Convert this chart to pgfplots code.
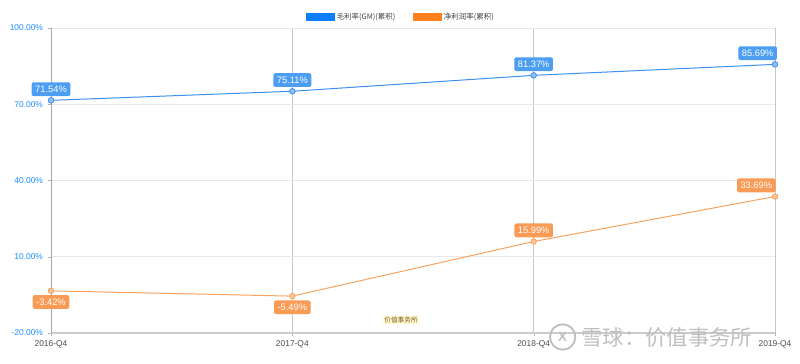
\documentclass[border=0pt]{standalone}
\usepackage{fontspec}
\setmainfont{Liberation Sans}
\newfontfamily\cjk{Noto Sans CJK SC}
\usepackage{pgfplots}
\pgfplotsset{compat=1.18}
\definecolor{gmline}{HTML}{3D8FF0}
\definecolor{gmleg}{HTML}{0B7FFB}
\definecolor{gmlab}{HTML}{4C9EF2}
\definecolor{gmmark}{HTML}{8CC0F7}
\definecolor{npline}{HTML}{F8A25E}
\definecolor{npleg}{HTML}{FF801F}
\definecolor{nplab}{HTML}{F99B55}
\definecolor{npmark}{HTML}{FBC49A}
\definecolor{ytl}{HTML}{1A8CFF}
\pgfplotsset{
  lab/.style 2 args={forget plot, draw=none, mark=none,
    nodes near coords={\pgfmathprintnumber[fixed,fixed zerofill,precision=2]{\pgfplotspointmeta}\%},
    every node near coord/.append style={anchor=#2,
      fill=#1, text=white, rounded corners=1.5pt, inner xsep=2.6pt, inner ysep=2.7pt,
      font=\fontsize{7}{8}\selectfont}},
}
\begin{document}
\begin{tikzpicture}
\useasboundingbox (0,0) rectangle (600pt,273pt);
\begin{axis}[
  at={(38.25pt,23.25pt)}, anchor=south west,
  scale only axis, width=543pt, height=228.75pt,
  xmin=0, xmax=3, ymin=-20, ymax=100,
  xtick={0,1,2,3},
  xticklabels={2016-Q4,2017-Q4,2018-Q4,2019-Q4},
  ytick={-20,10,40,70,100},
  yticklabel={\pgfmathprintnumber[fixed,fixed zerofill,precision=2]{\tick}\%},
  /pgf/number format/assume math mode=true,
  yticklabel style={text=ytl, font=\fontsize{6.3}{7}\selectfont},
  xticklabel style={text=black!70, font=\fontsize{6.3}{7}\selectfont},
  axis x line*=bottom, axis y line*=left,
  x axis line style={draw=black!20, line width=1.2pt},
  y axis line style={draw=black!35, line width=0.6pt},
  tick align=outside, major tick length=2.5pt,
  tick style={draw=black!30},
  xmajorgrids, ymajorgrids,
  x grid style={draw=black!22, line width=0.6pt},
  y grid style={draw=black!9, line width=0.6pt},
  clip=false,
  legend style={at={(0.5,1)}, anchor=south, xshift=-9pt, yshift=3pt,
    draw=none, fill=none, legend columns=2, inner sep=0pt,
    font=\cjk\fontsize{5.6}{7}\selectfont, text=black!75,
    /tikz/every even column/.append style={column sep=11pt}},
]
\addlegendimage{legend image code/.code={\fill[gmleg] (0pt,-2.6pt) rectangle (21pt,2.6pt);}}
\addlegendentry{毛利率(GM)(累积)}
\addlegendimage{legend image code/.code={\fill[npleg] (0pt,-2.6pt) rectangle (21pt,2.6pt);}}
\addlegendentry{净利润率(累积)}
% lines and markers
\addplot[forget plot, gmline, line width=0.75pt, mark=*, mark size=2.1pt,
  mark options={draw=gmline, fill=gmmark, line width=0.6pt}]
  coordinates {(0,71.54) (1,75.11) (2,81.37) (3,85.69)};
\addplot[forget plot, npline, line width=0.75pt, mark=*, mark size=2.1pt,
  mark options={draw=npline, fill=npmark, line width=0.6pt}]
  coordinates {(0,-3.42) (1,-5.49) (2,15.99) (3,33.69)};
% value labels
\addplot[lab={gmlab}{south}, every node near coord/.append style={yshift=3pt}]
  coordinates {(0,71.54) (1,75.11) (2,81.37)};
\addplot[lab={gmlab}{south}, every node near coord/.append style={yshift=3pt, xshift=-13pt}]
  coordinates {(3,85.69)};
\addplot[lab={nplab}{north}, every node near coord/.append style={yshift=-3pt}]
  coordinates {(0,-3.42) (1,-5.49)};
\addplot[lab={nplab}{south}, every node near coord/.append style={yshift=3pt}]
  coordinates {(2,15.99)};
\addplot[lab={nplab}{south}, every node near coord/.append style={yshift=3pt, xshift=-14pt}]
  coordinates {(3,33.69)};
\end{axis}
\node[text=black!25, font=\cjk\fontsize{16}{18}\selectfont] at (500pt,20.25pt) {雪球：价值事务所};
\draw[black!25, line width=1.4pt] (422pt,20.25pt) circle (9.5pt);
\node[text=black!25, font=\fontsize{10}{12}\selectfont\bfseries] at (422pt,20.25pt) {X};
\node[text=brown!70!black, fill=yellow!20, inner sep=1pt, font=\cjk\fontsize{5}{6}\selectfont] at (300.75pt,33pt) {价值事务所};
\end{tikzpicture}
\end{document}
